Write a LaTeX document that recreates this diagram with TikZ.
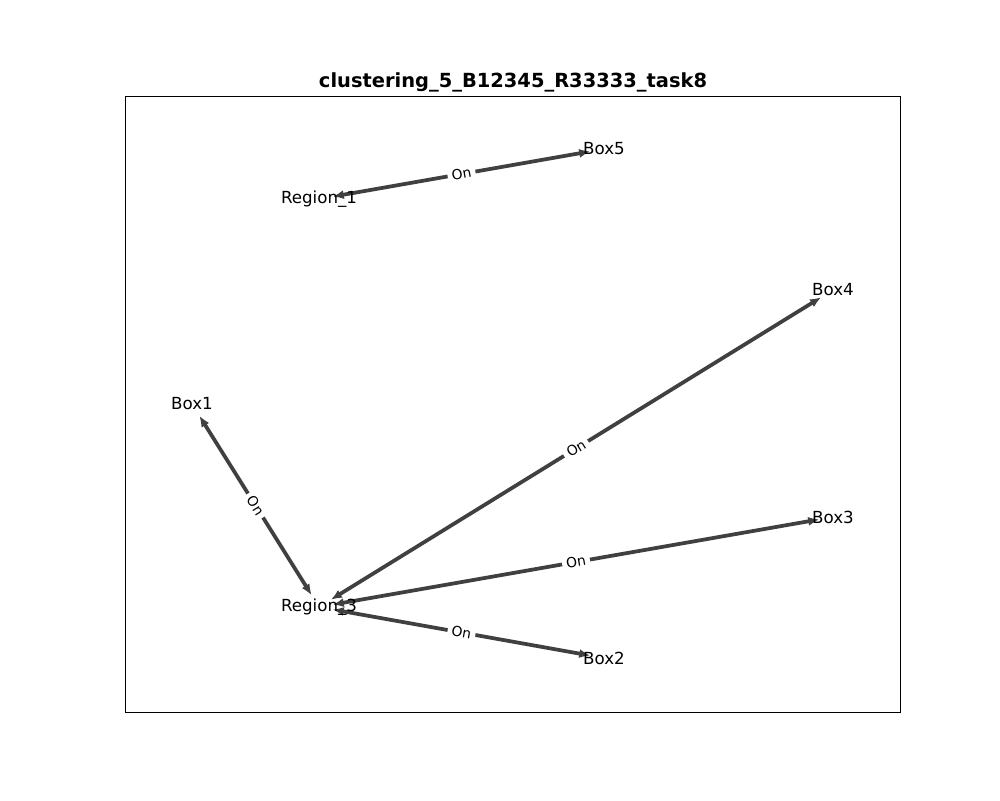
\documentclass[tikz,border=0pt]{standalone}
\usepackage{fontspec}
\setmainfont{DejaVu Sans}
\usetikzlibrary{arrows.meta}
\tikzset{
  lbl/.style={font=\fontsize{12}{14}\selectfont, inner sep=0pt},
  edge/.style={line width=2.7pt, draw=black!75, {Latex[length=8pt,width=6.5pt]}-{Latex[length=8pt,width=6.5pt]}, shorten <=10pt, shorten >=10pt},
  elbl/.style={font=\fontsize{10}{12}\selectfont, fill=white, inner xsep=3pt, inner ysep=1pt, sloped, midway},
}
\begin{document}
\begin{tikzpicture}[x=0.72pt,y=-0.72pt]
\useasboundingbox (0,0) rectangle (1000,800);
\draw[line width=0.7pt] (125,96) rectangle (900,712);
\node[font=\fontsize{14}{17}\selectfont\bfseries] (title) at (513,82) {clustering\_5\_B12345\_R33333\_task8};
\coordinate (r1) at (319,199);
\coordinate (b5) at (604,149);
\coordinate (b4) at (833,290);
\coordinate (b1) at (192,404);
\coordinate (b3) at (833,517);
\coordinate (r3) at (319,607);
\coordinate (b2) at (604,658);
\draw[edge] (r1) -- node[elbl] {On} (b5);
\draw[edge] (r3) -- node[elbl] {On} (b4);
\draw[edge] (r3) -- node[elbl] {On} (b1);
\draw[edge] (r3) -- node[elbl] {On} (b3);
\draw[edge] (r3) -- node[elbl] {On} (b2);
\node[lbl] (nr1) at (r1) {Region\_1};
\node[lbl] (nb5) at (b5) {Box5};
\node[lbl] (nb4) at (b4) {Box4};
\node[lbl] (nb1) at (b1) {Box1};
\node[lbl] (nb3) at (b3) {Box3};
\node[lbl] (nr3) at (r3) {Region\_3};
\node[lbl] (nb2) at (b2) {Box2};
\end{tikzpicture}
\end{document}
